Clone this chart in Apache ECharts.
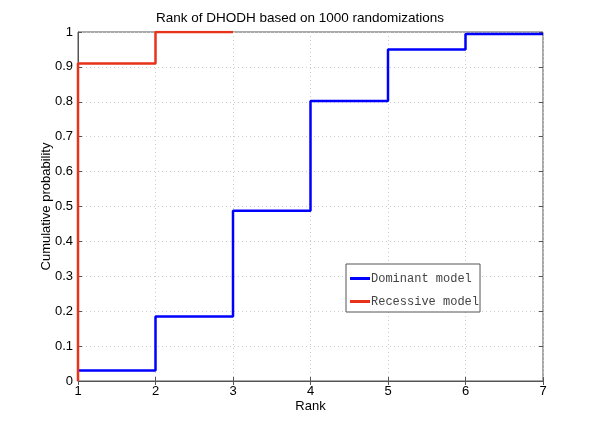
<!DOCTYPE html>
<html><head><meta charset="utf-8">
<script src="https://cdn.jsdelivr.net/npm/echarts@6/dist/echarts.min.js"></script>
<style>html,body{margin:0;padding:0;background:#fff}#c{width:600px;height:428px}</style>
</head><body><div id="c"></div>
<script>
const dominantRank = [1, 2, 3, 4, 5, 6, 7];
const dominantProb = [0.03, 0.185, 0.488, 0.802, 0.95, 0.994, 0.994];
const recessiveRank = [1, 1, 2, 3];
const recessiveProb = [0, 0.91, 1, 1];
const title = 'Rank of DHODH based on 1000 randomizations';
const seriesNames = ['Dominant model', 'Recessive model'];

const chart = echarts.init(document.getElementById('c'));
const axisColor = '#555';
const gridLine = {show: true, lineStyle: {color: '#ccc', type: [1, 3], width: 1}};
const font = 'Liberation Sans';
chart.setOption({
  animation: false,
  title: {text: title, left: 'center', top: 6, textStyle: {fontFamily: font, fontSize: 13.5, fontWeight: 'normal', color: '#000'}},
  grid: {left: 78, right: 57, top: 32, bottom: 47, show: true, borderColor: axisColor, borderWidth: 1},
  legend: {
    orient: 'vertical', left: 346, top: 264, padding: [8, 1, 4, 4],
    borderColor: '#555', borderWidth: 1, backgroundColor: '#fff',
    itemWidth: 20, itemHeight: 3, itemGap: 10, icon: 'rect',
    textStyle: {fontFamily: 'Liberation Mono', fontSize: 12, lineHeight: 13, color: '#444', padding: [0, 0, 0, -4]},
    data: seriesNames
  },
  xAxis: [{
    type: 'value', min: 1, max: 7, interval: 1,
    name: 'Rank', nameLocation: 'middle', nameGap: 19, nameMoveOverlap: false,
    nameTextStyle: {fontFamily: font, fontSize: 13, color: '#000'},
    axisLine: {lineStyle: {color: axisColor}},
    axisTick: {inside: true, length: 4, lineStyle: {color: axisColor}},
    axisLabel: {fontFamily: font, fontSize: 13, color: '#000', margin: 4},
    splitLine: gridLine
  }, {
    type: 'value', min: 1, max: 7, interval: 1, position: 'top',
    axisLine: {show: false}, axisTick: {inside: true, length: 4, lineStyle: {color: axisColor}},
    axisLabel: {show: false}, splitLine: {show: false}
  }],
  yAxis: [{
    type: 'value', min: 0, max: 1, interval: 0.1,
    name: 'Cumulative probability', nameLocation: 'middle', nameGap: 25, nameMoveOverlap: false,
    nameTextStyle: {fontFamily: font, fontSize: 13, color: '#000'},
    axisLine: {show: true, lineStyle: {color: axisColor}},
    axisTick: {show: true, inside: true, length: 4, lineStyle: {color: axisColor}},
    axisLabel: {fontFamily: font, fontSize: 13, color: '#000', margin: 5, formatter: v => String(Math.round(v * 10) / 10)},
    splitLine: gridLine
  }, {
    type: 'value', min: 0, max: 1, interval: 0.1, position: 'right',
    axisLine: {show: false}, axisTick: {show: true, inside: true, length: 4, lineStyle: {color: axisColor}},
    axisLabel: {show: false}, splitLine: {show: false}
  }],
  series: [{
    name: seriesNames[0], type: 'line', step: 'end', symbol: 'none',
    lineStyle: {color: '#0000ff', width: 2.5}, itemStyle: {color: '#0000ff'},
    data: dominantRank.map((r, i) => [r, dominantProb[i]])
  }, {
    name: seriesNames[1], type: 'line', step: 'end', symbol: 'none',
    lineStyle: {color: '#e8321a', width: 2.5}, itemStyle: {color: '#e8321a'},
    data: recessiveRank.map((r, i) => [r, recessiveProb[i]])
  }]
});
</script></body></html>
